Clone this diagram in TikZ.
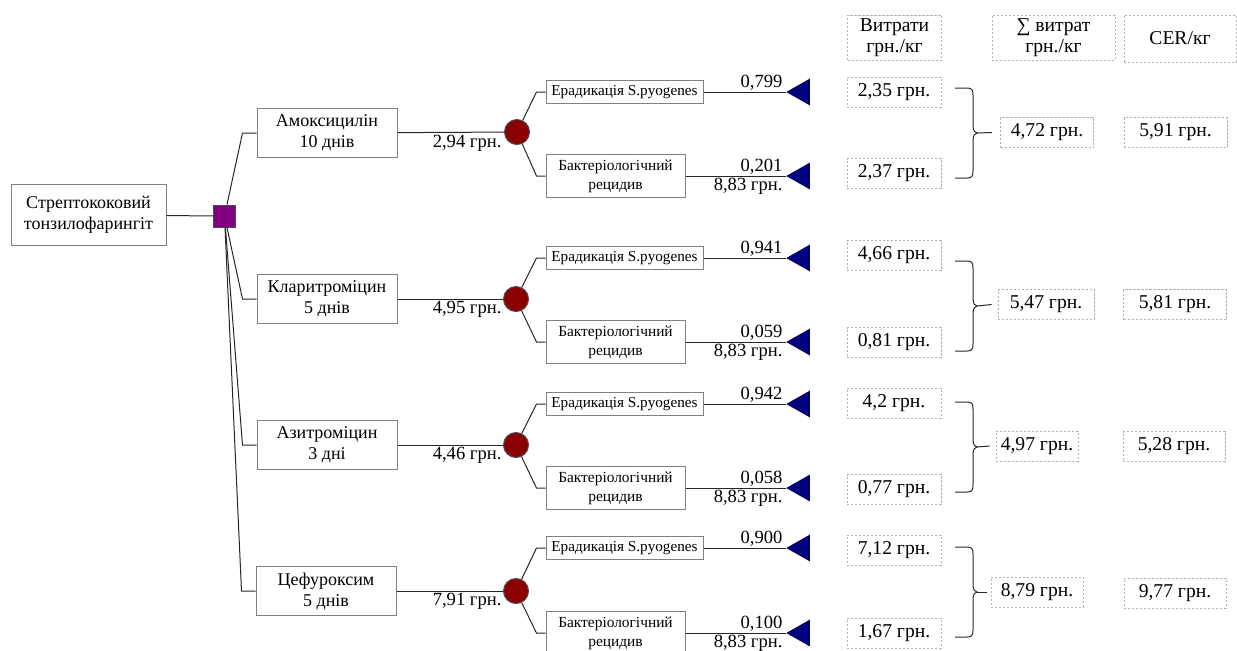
\documentclass[tikz,border=0pt]{standalone}
\usepackage{fontspec}
\setmainfont{Liberation Serif}
\usetikzlibrary{shapes.geometric}

\definecolor{decpurple}{HTML}{800080}
\definecolor{chancered}{HTML}{8B0000}
\definecolor{endblue}{HTML}{000080}

\begin{document}
\begin{tikzpicture}[x=0.5pt, y=-0.5pt, line width=0.5pt, draw=black!85,
        box/.style = {draw=gray, fill=white, align=center, inner sep=1pt},
        drug/.style = {box, minimum width=70pt, minimum height=24.5pt, font=\fontsize{9}{10.5}\selectfont},
        erad/.style = {box, minimum width=78.5pt, minimum height=11.5pt, font=\fontsize{7.6}{9.5}\selectfont},
        relapse/.style = {box, minimum width=69.5pt, minimum height=21.5pt, font=\fontsize{7.7}{9.5}\selectfont},
        dec/.style = {draw=black!70, fill=decpurple, minimum size=11pt, inner sep=0pt},
        chance/.style = {circle, draw=black!70, fill=chancered, minimum size=12.5pt, inner sep=0pt},
        term/.style = {isosceles triangle, isosceles triangle stretches, shape border rotate=180, fill=endblue, draw=endblue!70!black, minimum width=12.5pt, minimum height=11pt, inner sep=0pt, anchor=apex},
        lbl/.style = {inner sep=0pt, anchor=base east, font=\fontsize{9.3}{11}\selectfont},
        cost/.style = {draw=gray!60, line width=0.4pt, dash pattern=on 1.2pt off 0.8pt, align=center, inner sep=1pt, minimum width=47pt, minimum height=15pt, font=\fontsize{9.8}{10.5}\selectfont},
        brc/.pic = {
            \draw (-22,-45) -- (-10,-45) .. controls (-5,-45) and (-4,-43) .. (-4,-38) -- (-4,-8)
                .. controls (-4,-2) and (-2,0) .. (0,0) .. controls (-2,0) and (-4,2) .. (-4,8)
                -- (-4,38) .. controls (-4,43) and (-5,45) .. (-10,45) -- (-22,45);
            \coordinate (-tip) at (0,0);
        }]
    \useasboundingbox (0,0) rectangle (1237,650);

    % root and decision
    \node[box, minimum width=77.5pt, minimum height=30.5pt, font=\fontsize{9}{10.5}\selectfont] (root) at (88.5,215) {Стрептококовий\\тонзилофарингіт};
    \node[dec] (dec) at (224.5,216) {};
    \draw (root) -- (dec);

    % treatments
    \node[drug] (amox) at (327,133) {Амоксицилін\\10 днів};
    \node[drug] (clar) at (327,299) {Кларитроміцин\\5 днів};
    \node[drug] (azit) at (327,445) {Азитроміцин\\3 дні};
    \node[drug] (cef) at (326,591) {Цефуроксим\\5 днів};
    \draw (dec) -- ([xshift=-7pt]amox.west) -- (amox);
    \draw (dec) -- ([xshift=-7pt]clar.west) -- (clar);
    \draw (dec) -- ([xshift=-7pt]azit.west) -- (azit);
    \draw (dec) -- ([xshift=-7pt]cef.west) -- (cef);

    % chance nodes
    \node[chance] (ch1) at (517,132) {};
    \node[chance] (ch2) at (516,299) {};
    \node[chance] (ch3) at (516,445) {};
    \node[chance] (ch4) at (516,591) {};
    \draw (amox) -- (ch1);
    \draw (clar) -- (ch2);
    \draw (azit) -- (ch3);
    \draw (cef) -- (ch4);
    \node[lbl] (c1) at (502,147) {2,94 грн.};
    \node[lbl] (c2) at (502,313) {4,95 грн.};
    \node[lbl] (c3) at (502,459) {4,46 грн.};
    \node[lbl] (c4) at (502,605) {7,91 грн.};

    % outcomes
    \node[erad] (er1) at (624.5,92) {Ерадикація S.pyogenes};
    \node[relapse] (re1) at (615.5,176) {Бактеріологічний\\рецидив};
    \node[erad] (er2) at (624.5,258) {Ерадикація S.pyogenes};
    \node[relapse] (re2) at (615.5,342) {Бактеріологічний\\рецидив};
    \node[erad] (er3) at (624.5,404) {Ерадикація S.pyogenes};
    \node[relapse] (re3) at (615.5,488) {Бактеріологічний\\рецидив};
    \node[erad] (er4) at (624.5,548) {Ерадикація S.pyogenes};
    \node[relapse] (re4) at (615.5,633) {Бактеріологічний\\рецидив};
    \draw (ch1) -- ([xshift=-4.5pt]er1.west) -- (er1);
    \draw (ch1) -- ([xshift=-4.5pt]re1.west) -- (re1);
    \draw (ch2) -- ([xshift=-4.5pt]er2.west) -- (er2);
    \draw (ch2) -- ([xshift=-4.5pt]re2.west) -- (re2);
    \draw (ch3) -- ([xshift=-4.5pt]er3.west) -- (er3);
    \draw (ch3) -- ([xshift=-4.5pt]re3.west) -- (re3);
    \draw (ch4) -- ([xshift=-4.5pt]er4.west) -- (er4);
    \draw (ch4) -- ([xshift=-4.5pt]re4.west) -- (re4);

    % terminal nodes
    \node[term] (t1a) at (786,92) {};
    \node[term] (t1b) at (786,176) {};
    \node[term] (t2a) at (786,258) {};
    \node[term] (t2b) at (786,342) {};
    \node[term] (t3a) at (786,404) {};
    \node[term] (t3b) at (786,488) {};
    \node[term] (t4a) at (786,548) {};
    \node[term] (t4b) at (786,633) {};
    \draw (er1) -- (t1a);
    \draw (re1) -- (t1b);
    \draw (er2) -- (t2a);
    \draw (re2) -- (t2b);
    \draw (er3) -- (t3a);
    \draw (re3) -- (t3b);
    \draw (er4) -- (t4a);
    \draw (re4) -- (t4b);
    \node[lbl] (p1a) at (783,87) {0,799};
    \node[lbl] (p1b) at (783,171) {0,201};
    \node[lbl] (q1) at (783,190) {8,83 грн.};
    \node[lbl] (p2a) at (783,253) {0,941};
    \node[lbl] (p2b) at (783,337) {0,059};
    \node[lbl] (q2) at (783,356) {8,83 грн.};
    \node[lbl] (p3a) at (783,399) {0,942};
    \node[lbl] (p3b) at (783,483) {0,058};
    \node[lbl] (q3) at (783,502) {8,83 грн.};
    \node[lbl] (p4a) at (783,543) {0,900};
    \node[lbl] (p4b) at (783,628) {0,100};
    \node[lbl] (q4) at (783,647) {8,83 грн.};

    % cost columns
    \node[cost, minimum height=22.5pt] (hcost) at (894.5,37.5) {Витрати\\грн./кг};
    \node[cost, minimum width=61.5pt, minimum height=22.5pt] (hsum) at (1053.5,37.5) {∑ витрат\\грн./кг};
    \node[cost, minimum width=56pt, minimum height=23.5pt] (hcer) at (1180,38.5) {CER/кг};

    \node[cost] (v1a) at (894,92) {2,35 грн.};
    \node[cost] (v1b) at (894,173.5) {2,37 грн.};
    \node[cost] (v2a) at (894,255.5) {4,66 грн.};
    \node[cost] (v2b) at (894,342.5) {0,81 грн.};
    \node[cost] (v3a) at (894,403) {4,2 грн.};
    \node[cost] (v3b) at (894,489.5) {0,77 грн.};
    \node[cost] (v4a) at (894,550) {7,12 грн.};
    \node[cost] (v4b) at (894,633) {1,67 грн.};

    \node[cost, minimum width=46.5pt] (s1) at (1047,132.5) {4,72 грн.};
    \node[cost, minimum width=48pt] (s2) at (1046,304.5) {5,47 грн.};
    \node[cost, minimum width=41pt] (s3) at (1037,446) {4,97 грн.};
    \node[cost, minimum width=46pt] (s4) at (1037,592) {8,79 грн.};

    \node[cost, minimum width=51.5pt] (e1) at (1175.5,132.5) {5,91 грн.};
    \node[cost, minimum width=51.5pt] (e2) at (1175,304.5) {5,81 грн.};
    \node[cost, minimum width=51pt] (e3) at (1174,446.5) {5,28 грн.};
    \node[cost, minimum width=51pt] (e4) at (1175,593) {9,77 грн.};

    % braces
    \pic (b1) at (977,133) {brc};
    \pic (b2) at (977,306) {brc};
    \pic (b3) at (977,447) {brc};
    \pic (b4) at (977,592) {brc};
    \draw (b1-tip) -- ([xshift=-4pt]s1.west);
    \draw (b2-tip) -- ([xshift=-3pt]s2.west);
    \draw (b3-tip) -- ([xshift=-3pt]s3.west);
    \draw (b4-tip) -- ([xshift=-2pt]s4.west);
\end{tikzpicture}
\end{document}
